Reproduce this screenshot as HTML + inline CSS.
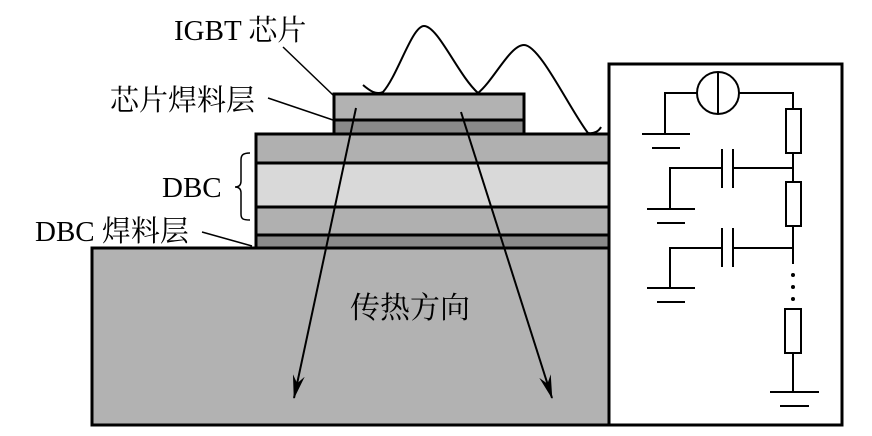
<!DOCTYPE html>
<html><head><meta charset="utf-8"><style>
html,body{margin:0;padding:0;background:#fff}
svg{display:block}
text{font-family:"Liberation Serif","Noto Serif CJK SC",serif;fill:#000}
</style></head><body>
<svg width="872" height="436" viewBox="0 0 872 436" xmlns="http://www.w3.org/2000/svg">
<defs>
<marker id="ah" markerWidth="26" markerHeight="12" refX="23" refY="6" orient="auto" markerUnits="userSpaceOnUse" viewBox="0 0 26 12">
<path d="M0,0 L24,6 L0,12 L8,6 Z" fill="#000"/>
</marker>
</defs>
<g stroke="#000" stroke-width="3">
<rect x="92" y="248" width="517" height="177" fill="#b2b2b2"/>
<rect x="256" y="235" width="353" height="13" fill="#8a8a8a"/>
<rect x="256" y="207" width="353" height="28" fill="#b0b0b0"/>
<rect x="256" y="163" width="353" height="44" fill="#d9d9d9"/>
<rect x="256" y="134" width="353" height="29" fill="#b0b0b0"/>
<rect x="334" y="120" width="190" height="14" fill="#8a8a8a"/>
<rect x="334" y="94" width="190" height="26" fill="#b2b2b2"/>
<rect x="609" y="64" width="233" height="361" fill="#fff"/>
</g>
<g stroke="#000" stroke-width="2" fill="none">
<line x1="356" y1="108" x2="294" y2="398" marker-end="url(#ah)"/>
<line x1="461" y1="112" x2="552" y2="398" marker-end="url(#ah)"/>
<path d="M363,85 C370,91 376,95 383,92 C398,75 412,26 424,26 C438,26 458,75 478,93 C494,80 510,45 524,45 C540,45 570,110 588,133 C594,134 599,131 601,127"/>
<line x1="283" y1="47" x2="333" y2="95" stroke-width="1.5"/>
<line x1="268" y1="98" x2="333" y2="120" stroke-width="1.5"/>
<line x1="202" y1="232" x2="252" y2="246" stroke-width="1.5"/>
<path d="M250,153 C243,153 241,155 241,160 L241,181 C241,185 239,187 235,187 C239,187 241,189 241,193 L241,214 C241,219 243,220 250,220" stroke-width="1.5"/>
</g>
<g stroke="#000" stroke-width="2" fill="none">
<circle cx="718" cy="93" r="21" fill="#fff"/>
<line x1="718" y1="72" x2="718" y2="114"/>
<polyline points="697,93 665,93 665,134"/>
<line x1="642" y1="134" x2="690" y2="134"/>
<line x1="652" y1="148" x2="680" y2="148"/>
<polyline points="739,93 793,93 793,109"/>
<rect x="786" y="109" width="15" height="44" fill="#fff"/>
<line x1="793" y1="153" x2="793" y2="182"/>
<rect x="786" y="182" width="15" height="44" fill="#fff"/>
<line x1="793" y1="226" x2="793" y2="264"/>
<polyline points="722,168 670,168 670,209"/>
<line x1="733" y1="168" x2="793" y2="168"/>
<line x1="722" y1="149" x2="722" y2="188"/>
<line x1="733" y1="149" x2="733" y2="188"/>
<line x1="647" y1="209" x2="695" y2="209"/>
<line x1="657" y1="223" x2="685" y2="223"/>
<polyline points="722,248 670,248 670,288"/>
<line x1="733" y1="248" x2="793" y2="248"/>
<line x1="722" y1="228" x2="722" y2="267"/>
<line x1="733" y1="228" x2="733" y2="267"/>
<line x1="647" y1="288" x2="695" y2="288"/>
<line x1="657" y1="302" x2="685" y2="302"/>
<rect x="785" y="309" width="16" height="44" fill="#fff"/>
<line x1="793" y1="353" x2="793" y2="392"/>
<line x1="770" y1="392" x2="819" y2="392"/>
<line x1="780" y1="406" x2="809" y2="406"/>
</g>
<g fill="#000">
<circle cx="793" cy="275" r="2"/>
<circle cx="793" cy="287" r="2"/>
<circle cx="793" cy="299" r="2"/>
</g>
<text x="174" y="40" font-size="29">IGBT 芯片</text>
<text x="110" y="110" font-size="29">芯片焊料层</text>
<text x="162" y="197" font-size="29">DBC</text>
<text x="35" y="241" font-size="29">DBC 焊料层</text>
<text x="350" y="318" font-size="30" font-family="Noto Sans CJK SC, sans-serif">传热方向</text>
</svg>
</body></html>
